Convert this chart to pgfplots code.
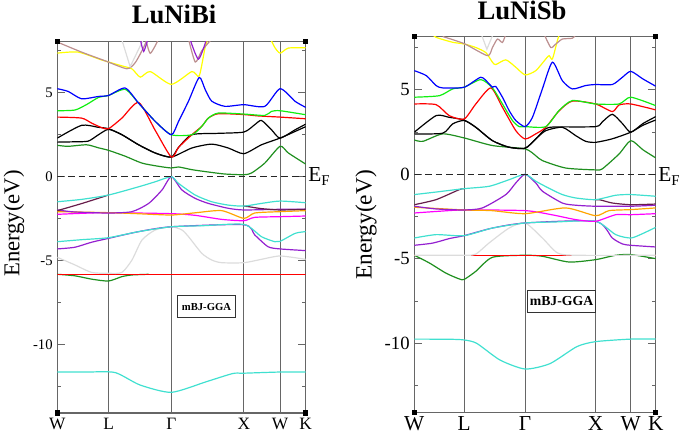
\documentclass[border=0pt]{standalone}
\usepackage{pgfplots}
\pgfplotsset{compat=1.18}
\usepackage{fontspec}
\setmainfont{Liberation Serif}
\definecolor{cBlue}{HTML}{0000FF}
\definecolor{cGreen}{HTML}{11EE11}
\definecolor{cRed}{HTML}{FF0000}
\definecolor{cDkGreen}{HTML}{1F8F1F}
\definecolor{cYellow}{HTML}{FFFF00}
\definecolor{cBrown}{HTML}{BC8F8F}
\definecolor{cGray}{HTML}{DCDCDC}
\definecolor{cViolet}{HTML}{9420D0}
\definecolor{cCyan}{HTML}{40E0D0}
\definecolor{cMagenta}{HTML}{FF00FF}
\definecolor{cOrange}{HTML}{FFA500}
\definecolor{cMaroon}{HTML}{671D4A}
\definecolor{cFrame}{HTML}{666666}
\pgfplotsset{
  bandaxis/.style={
    scale only axis,
    xmin=0, xmax=3.4267,
    axis line style={draw=cFrame, line width=0.8pt},
    xtick={0,0.7071,1.5731,2.5731,3.0731,3.4267},
    xticklabels={W,L,Γ,X,W,K},
    xtick style={draw=none},
    xmajorgrids, grid style={cFrame, line width=0.7pt},
    ytick={-10,-5,0,5}, yticklabels={-10,-5,0,5},
    minor ytick={-12.5,-7.5,-2.5,2.5,7.5},
    ytick pos=both, yticklabel pos=left,
    y tick style={draw=cFrame, line width=0.7pt},
    major tick length=6pt, minor tick length=3pt,
    tick align=inside,
    clip=true,
  },
  band/.style={no marks, line width=0.9pt, smooth, tension=0.4},
  flat/.style={no marks, line width=0.9pt},
}
\begin{document}
\begin{tikzpicture}
\path[use as bounding box] (0,0) rectangle (513.75pt,327pt);

% ================= LEFT: LuNiBi =================
\begin{axis}[bandaxis, name=axL, at={(42.98pt,17.25pt)}, anchor=south west,
  width=186.3pt, height=278.48pt, ymin=-14.07, ymax=8.04,
  yticklabel style={font=\rmfamily\fontsize{11}{13}\selectfont},
  xticklabel style={font=\rmfamily\fontsize{13}{15}\selectfont}]
% deep band
\addplot[band, cCyan] coordinates {(0,-11.63)(0.4,-11.63)(0.796,-11.66)(1.14,-12.4)(1.5731,-12.84)(2.06,-12.2)(2.42,-11.72)(2.5731,-11.70)(3.0731,-11.63)(3.4267,-11.63)};
% semicore region
\addplot[band, cDkGreen] coordinates {(0,-5.81)(0.242,-5.9)(0.474,-6.1)(0.7071,-6.21)(0.891,-5.95)(1.030,-5.85)(1.260,-5.81)};
\addplot[flat, cRed] coordinates {(0,-5.81)(3.4267,-5.81)};
\addplot[band, cGray] coordinates {(0,-4.8)(0.242,-5.25)(0.474,-5.7)(0.7071,-5.75)(0.891,-5.70)(1.030,-4.96)(1.168,-3.77)(1.352,-3.17)(1.5731,-2.98)(1.719,-3.17)(1.810,-3.57)(1.993,-4.56)(2.130,-4.96)(2.267,-5.12)(2.5731,-5.12)(2.816,-4.92)(3.0731,-4.72)(3.4267,-4.92)};
% valence bands
\addplot[band, cViolet] coordinates {(0,-4.30)(0.242,-4.2)(0.474,-3.9)(0.7071,-3.67)(1.122,-3.27)(1.5731,-2.98)(2.5731,-2.86)(2.724,-3.47)(2.908,-4.17)(3.0731,-4.30)(3.4267,-4.40)};
\addplot[band, cCyan] coordinates {(0,-3.87)(0.335,-3.75)(0.7071,-3.63)(1.122,-3.27)(1.5731,-2.98)(2.0,-2.92)(2.5731,-2.84)(2.816,-3.57)(3.0,-3.87)(3.0731,-3.85)(3.283,-3.37)(3.4267,-3.27)};
\addplot[band, cMagenta] coordinates {(0,-2.24)(0.335,-2.18)(0.7071,-2.14)(1.5731,-2.2)(1.902,-2.3)(2.267,-2.54)(2.5731,-2.62)(2.724,-2.42)(3.0731,-2.38)(3.4267,-2.34)};
\addplot[band, cOrange] coordinates {(0,-2.08)(0.7071,-2.14)(1.1,-2.2)(1.5731,-2.28)(1.9,-2.15)(2.267,-2.02)(2.5731,-2.48)(2.724,-2.16)(3.0731,-2.08)(3.4267,-2.02)};
\addplot[band, cViolet] coordinates {(0,-1.98)(0.242,-2.1)(0.7071,-2.16)(1.030,-2.08)(1.260,-1.59)(1.444,-0.79)(1.5731,0)(1.719,-0.79)(1.902,-1.29)(2.084,-1.59)(2.358,-1.88)(2.5731,-1.98)(3.0731,-1.94)(3.4267,-1.94)};
\addplot[band, cMaroon] coordinates {(0,-2.02)(0.335,-1.6)(0.7071,-1.09)};
\addplot[band, cMaroon] coordinates {(2.5731,-1.75)(2.633,-1.78)(2.816,-1.9)(3.0731,-1.98)(3.4267,-1.94)};
\addplot[band, cCyan] coordinates {(0,-1.49)(0.335,-1.35)(0.7071,-1.09)(1.122,-0.6)(1.352,-0.30)(1.5731,0)(1.673,-0.40)(1.902,-1.09)(2.130,-1.49)(2.358,-1.69)(2.5731,-1.75)(2.816,-1.59)(3.0731,-1.45)(3.4267,-1.55)};
% conduction bands
\addplot[band, cDkGreen] coordinates {(0,1.87)(0.149,1.81)(0.405,1.90)(0.568,1.72)(0.7071,1.57)(0.937,1.22)(1.168,0.81)(1.398,0.62)(1.5731,0.52)(1.673,0.58)(1.856,0.42)(2.084,0.28)(2.313,0.16)(2.5731,0.12)(2.679,0.22)(2.862,0.81)(3.0731,1.81)(3.188,1.41)(3.4267,0.75)};
\addplot[band, black] coordinates {(0,2.06)(0.242,2.08)(0.428,2.12)(0.568,2.5)(0.7071,2.82)(0.891,2.5)(1.122,1.90)(1.352,1.41)(1.5731,1.17)(1.856,1.71)(2.130,1.94)(2.358,1.71)(2.5731,1.37)(2.816,1.9)(3.0731,2.3)(3.283,2.7)(3.4267,2.98)};
\addplot[band, black] coordinates {(0,2.30)(0.335,3.06)(0.568,2.94)(0.7071,2.86)(0.891,2.5)(1.122,1.90)(1.352,1.41)(1.5731,1.17)(1.673,1.75)(1.856,2.5)(2.2,2.58)(2.5731,2.66)(2.724,3.1)(2.816,3.35)(2.954,2.8)(3.0731,2.3)(3.283,2.8)(3.4267,3.13)};
\addplot[band, cRed] coordinates {(0,3.55)(0.335,3.49)(0.474,3.19)(0.614,2.92)(0.7071,2.86)(0.891,3.49)(1.122,4.42)(1.352,2.75)(1.5731,1.17)(1.673,1.75)(1.856,2.5)(1.993,3.0)(2.084,3.49)(2.221,3.75)(2.5731,3.70)(2.770,3.62)(3.0731,3.55)(3.4267,3.45)};
\addplot[band, cGreen] coordinates {(0,3.93)(0.242,3.97)(0.405,4.3)(0.568,4.72)(0.7071,4.84)(0.937,5.2)(1.122,4.38)(1.352,3.29)(1.5731,2.5)(1.856,2.5)(1.993,3.0)(2.084,3.49)(2.221,3.79)(2.5731,3.73)(2.862,3.65)(2.954,3.89)(3.0731,3.93)(3.4267,3.69)};
\addplot[band, cBlue] coordinates {(0,5.24)(0.149,5.08)(0.335,4.64)(0.568,4.78)(0.7071,4.84)(0.937,5.28)(1.122,4.38)(1.352,3.29)(1.5731,2.5)(1.673,3.3)(1.810,4.5)(1.957,5.91)(2.039,5.2)(2.130,4.5)(2.313,4.19)(2.5731,4.29)(2.862,4.19)(3.0731,5.24)(3.283,4.48)(3.4267,4.13)};
\addplot[band, cYellow] coordinates {(0,7.36)(0.288,7.42)(0.614,6.95)(0.891,6.6)(1.030,6.42)(1.145,5.93)(1.283,6.26)(1.5731,5.5)(1.856,6.26)(1.957,6.0)(2.039,7.7)(2.084,8.3)};
\addplot[band, cYellow] coordinates {(2.93,8.3)(3.0,7.7)(3.0731,7.36)(3.188,7.66)(3.4267,7.68)};
\addplot[band, cBrown] coordinates {(0,8.02)(0.335,7.42)(0.661,6.9)(0.960,6.43)(1.076,6.8)(1.191,7.7)(1.24,8.2)};
\addplot[band, cBrown] coordinates {(1.22,8.2)(1.283,7.35)(1.398,8.2)};
\addplot[band, cBrown] coordinates {(1.81,8.2)(1.903,6.83)(1.993,7.5)(2.13,8.2)};
\addplot[flat, cGray] coordinates {(0.887,8.2)(1.005,6.55)(1.19,8.2)};
\addplot[band, cViolet] coordinates {(1.145,8.2)(1.191,7.46)(1.25,8.2)};
\addplot[band, cViolet] coordinates {(1.83,8.2)(1.947,7.0)(2.06,8.2)};
% Fermi level
\addplot[no marks, black!85, line width=1pt, dash pattern=on 5pt off 3pt] coordinates {(0,0)(3.4267,0)};
\node[draw=black!80, line width=0.8pt, fill=white, font=\bfseries\fontsize{8}{9}\selectfont, inner xsep=3.5pt, minimum height=17pt] at (axis cs:2.058,-7.73) {mBJ-GGA};
\end{axis}

% ================= RIGHT: LuNiSb =================
\begin{axis}[bandaxis, name=axR, at={(310.73pt,17.78pt)}, anchor=south west,
  width=181.05pt, height=281.7pt, ymin=-14.08, ymax=8.14,
  yticklabel style={font=\rmfamily\fontsize{14}{16}\selectfont},
  xticklabel style={font=\rmfamily\fontsize{16}{18}\selectfont}]
\addplot[band, cCyan] coordinates {(0,-9.75)(0.5,-9.76)(0.7071,-9.8)(0.886,-10.0)(1.217,-10.99)(1.5731,-11.52)(1.926,-11.2)(2.305,-10.2)(2.5731,-9.9)(3.0731,-9.75)(3.4267,-9.75)};
\addplot[band, cDkGreen] coordinates {(0,-4.79)(0.215,-5.25)(0.45,-5.85)(0.637,-6.19)(0.7071,-6.22)(0.873,-5.74)(1.109,-4.91)(1.5731,-4.79)(1.818,-4.85)(2.196,-5.19)(2.5731,-5.05)(2.859,-4.79)(3.0731,-4.75)(3.4267,-4.99)};
\addplot[flat, cRed] coordinates {(0,-4.79)(3.4267,-4.79)};
\addplot[band, cGray] coordinates {(0,-4.79)(0.7071,-4.79)(0.873,-4.72)(1.062,-4.06)(1.346,-3.18)(1.5731,-2.88)(1.818,-3.77)(2.031,-4.65)(2.290,-4.79)(3.4267,-4.79)};
\addplot[band, cViolet] coordinates {(0,-4.2)(0.262,-4.07)(0.5,-3.8)(0.7071,-3.63)(1.109,-3.18)(1.5731,-2.88)(2.5731,-2.78)(2.811,-3.77)(2.954,-4.12)(3.0731,-4.2)(3.4267,-4.3)};
\addplot[band, cCyan] coordinates {(0,-3.77)(0.309,-3.57)(0.7071,-3.63)(1.109,-3.18)(1.5731,-2.88)(2.0,-2.82)(2.5731,-2.78)(2.859,-3.57)(3.0731,-3.77)(3.245,-3.5)(3.4267,-3.14)};
\addplot[band, cMagenta] coordinates {(0,-2.29)(0.309,-2.2)(0.7071,-2.11)(1.5731,-2.15)(1.96,-2.4)(2.290,-2.68)(2.5731,-2.78)(2.859,-2.39)(3.0731,-2.39)(3.4267,-2.33)};
\addplot[band, cOrange] coordinates {(0,-1.95)(0.7071,-2.11)(1.1,-2.15)(1.5731,-2.33)(2.149,-1.99)(2.5731,-2.45)(2.764,-2.15)(3.0731,-2.09)(3.4267,-1.99)};
\addplot[band, cViolet] coordinates {(0,-1.89)(0.309,-2.05)(0.7071,-2.11)(0.967,-1.99)(1.299,-1.2)(1.441,-0.51)(1.5731,0)(1.724,-0.51)(1.818,-1.0)(2.101,-1.7)(2.290,-1.83)(2.5731,-1.89)(3.0731,-1.89)(3.4267,-1.83)};
\addplot[band, cMaroon] coordinates {(0,-1.8)(0.309,-1.5)(0.637,-0.91)(0.7071,-0.85)};
\addplot[band, cMaroon] coordinates {(2.5731,-1.5)(2.645,-1.52)(2.811,-1.7)(3.0731,-1.8)(3.4267,-1.76)};
\addplot[band, cCyan] coordinates {(0,-1.2)(0.309,-1.05)(0.7071,-0.85)(1.062,-0.71)(1.346,-0.32)(1.5731,0)(1.724,-0.41)(1.913,-0.83)(2.101,-1.2)(2.290,-1.4)(2.5731,-1.5)(2.859,-1.24)(3.0731,-1.2)(3.4267,-1.3)};
% conduction
\addplot[band, cDkGreen] coordinates {(0,2.03)(0.122,1.95)(0.403,2.39)(0.7071,2.15)(1.109,1.70)(1.5731,1.50)(1.724,1.1)(1.818,0.81)(2.149,0.37)(2.5731,0.26)(2.668,0.32)(2.906,1.2)(3.0731,1.99)(3.245,1.45)(3.4267,0.97)};
\addplot[band, black] coordinates {(0,2.49)(0.309,3.47)(0.496,3.37)(0.7071,3.21)(0.873,2.78)(1.109,1.99)(1.346,1.60)(1.5731,1.54)(1.724,2.09)(1.866,2.58)(2.101,2.78)(2.290,2.29)(2.432,1.95)(2.5731,1.89)(2.811,2.1)(3.0731,2.49)(3.245,2.9)(3.4267,3.21)};
\addplot[band, black] coordinates {(0,2.39)(0.403,2.43)(0.543,2.98)(0.7071,3.18)(0.873,2.78)(1.109,1.99)(1.346,1.60)(1.5731,1.54)(1.724,2.09)(1.866,2.7)(2.0,2.8)(2.5731,2.82)(2.668,3.1)(2.811,3.55)(2.954,3.0)(3.0731,2.49)(3.245,3.0)(3.4267,3.41)};
\addplot[band, cRed] coordinates {(0,4.16)(0.309,4.12)(0.496,3.47)(0.7071,3.27)(0.873,4.16)(1.086,5.11)(1.251,3.96)(1.441,2.58)(1.5731,2.09)(1.724,2.39)(1.866,2.78)(2.054,3.75)(2.243,4.33)(2.5731,4.16)(2.811,3.71)(2.906,4.1)(3.0731,4.16)(3.4267,3.81)};
\addplot[band, cGreen] coordinates {(0,4.56)(0.356,4.65)(0.543,5.05)(0.7071,5.15)(0.944,5.6)(1.109,5.11)(1.251,4.16)(1.393,3.18)(1.488,2.82)(1.5731,2.82)(1.866,2.82)(2.054,3.77)(2.243,4.36)(2.5731,4.16)(2.906,4.16)(3.0731,4.56)(3.4267,4.06)};
\addplot[band, cBlue] coordinates {(0,6.13)(0.169,5.84)(0.309,5.25)(0.403,5.11)(0.7071,5.15)(0.944,5.74)(1.062,5.35)(1.109,5.15)(1.157,5.19)(1.251,4.56)(1.346,3.77)(1.441,3.18)(1.5731,2.82)(1.677,3.37)(1.818,5.05)(1.960,6.63)(2.101,5.54)(2.243,5.05)(2.432,5.25)(2.5731,5.31)(2.811,5.31)(2.954,5.74)(3.0731,6.09)(3.245,5.64)(3.4267,5.21)};
\addplot[band, cYellow] coordinates {(0.25,8.3)(0.309,8.1)(0.543,7.81)(0.7071,7.71)(0.873,7.5)(1.015,7.2)(1.109,6.63)(1.157,6.49)(1.299,6.77)(1.441,6.33)(1.5731,5.88)(1.724,6.13)(1.866,6.82)(1.913,7.02)(1.960,6.82)(2.031,7.91)(2.06,8.3)};
\addplot[band, cBrown] coordinates {(0.403,8.15)(0.7071,7.73)(1.038,7.02)(1.109,7.5)(1.180,8.0)(1.251,7.8)(1.299,8.3)};
\addplot[band, cBrown] coordinates {(1.842,8.3)(1.937,7.5)(2.007,7.7)(2.101,8.0)(2.243,8.05)(2.3,8.3)};
\addplot[flat, cGray] coordinates {(0.95,8.3)(1.03,7.4)(1.12,8.3)};
\addplot[no marks, black!85, line width=1pt, dash pattern=on 5pt off 3pt] coordinates {(0,0)(3.4267,0)};
\node[draw=black!80, line width=0.8pt, fill=white, font=\bfseries\fontsize{10.3}{12}\selectfont, inner xsep=1.5pt, minimum height=16.5pt] at (axis cs:2.09,-7.50) {mBJ-GGA};
\end{axis}

% corner squares
\foreach \a in {axL,axR}{
  \foreach \c in {south west,south east,north west,north east}{
    \fill[black] (\a.\c) ++(-1.9pt,-1.9pt) rectangle ++(3.8pt,3.8pt);
  }
}
% titles and labels
\node[anchor=base, inner sep=0, font=\bfseries\fontsize{20}{24}\selectfont] at (130.5pt,309pt) {LuNiBi};
\node[anchor=base, inner sep=0, font=\bfseries\fontsize{20}{24}\selectfont] at (391.5pt,312pt) {LuNiSb};
\node[rotate=90, inner sep=0, font=\fontsize{17}{20}\selectfont] at (10.5pt,159.4pt) {Energy(eV)};
\node[rotate=90, inner sep=0, font=\fontsize{17.5}{20}\selectfont] at (274.5pt,158.25pt) {Energy(eV)};
\node[anchor=base west, inner sep=0, font=\fontsize{16}{18}\selectfont] at (231pt,190.5pt) {E\textsubscript{F}};
\node[anchor=base west, inner sep=0, font=\fontsize{16}{18}\selectfont] at (493.5pt,190.5pt) {E\textsubscript{F}};
\end{tikzpicture}
\end{document}
